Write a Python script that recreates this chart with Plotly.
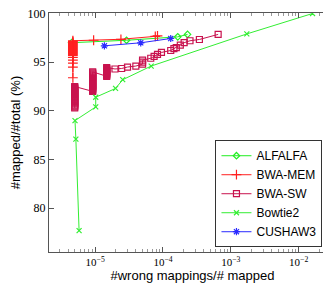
import plotly.graph_objects as go

# ---- data ----
alfalfa_x = [4.5e-6, 2.9e-5, 1.65e-4, 2.3e-4]
alfalfa_y = [97.0, 97.25, 97.6, 97.85]

bwamem_x = [8.3e-5, 7.7e-5, 2.4e-5, 9.5e-6, 4.7e-6, 4.7e-6, 4.7e-6, 4.7e-6, 4.7e-6, 4.7e-6,
            4.7e-6, 4.7e-6, 4.7e-6, 4.7e-6, 4.7e-6, 4.7e-6, 4.7e-6, 4.7e-6, 4.7e-6, 4.7e-6,
            4.7e-6, 4.7e-6, 4.7e-6, 4.7e-6, 4.7e-6]
bwamem_y = [97.7, 97.65, 97.35, 97.25, 97.2, 97.1, 97.0, 96.9, 96.8, 96.7,
            96.6, 96.5, 96.4, 96.3, 96.2, 96.1, 96.0, 95.9, 95.8, 95.7,
            95.5, 95.2, 94.9, 94.5, 93.4]

bwasw_x = [5.0e-6] * 23 + [9.2e-6] * 21 + [1.48e-5] * 10 + [
           1.96e-5, 2.46e-5, 3.0e-5, 3.98e-5, 5.0e-5, 5.0e-5, 5.0e-5, 6.6e-5, 7.4e-5,
           8.3e-5, 9.5e-5, 1.3e-4, 1.45e-4, 1.57e-4, 1.8e-4, 2.05e-4, 2.5e-4, 3.44e-4, 6.5e-4]
bwasw_y = [90.3, 90.4, 90.5, 90.6, 90.7, 90.8, 90.9, 91.0, 91.1, 91.2, 91.3, 91.4,
           91.5, 91.6, 91.7, 91.8, 91.9, 92.0, 92.1, 92.2, 92.3, 92.4, 92.5,
           92.0, 92.1, 92.2, 92.3, 92.4, 92.5, 92.6, 92.7, 92.8, 92.9, 93.0,
           93.1, 93.2, 93.3, 93.4, 93.5, 93.6, 93.7, 93.8, 93.9, 94.0,
           93.55, 93.65, 93.75, 93.85, 93.95, 94.05, 94.15, 94.25, 94.35, 94.45,
           94.3, 94.35, 94.5, 94.6, 94.8, 95.0, 95.2, 95.4, 95.6,
           95.8, 96.0, 96.2, 96.4, 96.5, 96.75, 97.0, 97.2, 97.33, 97.85]

bowtie_x = [1.6e-2, 1.72e-3, 6.7e-5, 2.55e-5, 2.0e-5, 1.02e-5, 1.02e-5, 5.05e-6, 5.2e-6, 5.8e-6]
bowtie_y = [100.0, 97.9, 94.6, 93.2, 92.3, 91.4, 90.4, 89.0, 87.1, 77.7]

cushaw_x = [1.37e-5, 4.7e-5, 1.3e-4]
cushaw_y = [96.68, 96.99, 97.43]

y_ticks = [80, 85, 90, 95, 100]
x_ticks = [1e-5, 1e-4, 1e-3, 1e-2]
x_ticktext = ["10<sup>−5</sup>", "10<sup>−4</sup>", "10<sup>−3</sup>", "10<sup>−2</sup>"]
x_minor = [m * 10.0 ** e for e in (-6, -5, -4, -3, -2) for m in range(2, 10)]

series = [
    ("ALFALFA", alfalfa_x, alfalfa_y, "#22ee22", "diamond-open", 5),
    ("BWA-MEM", bwamem_x, bwamem_y, "#ff2020", "cross-thin-open", 7),
    ("BWA-SW", bwasw_x, bwasw_y, "#c8124e", "square-open", 6),
    ("Bowtie2", bowtie_x, bowtie_y, "#33ee33", "x-thin-open", 5),
    ("CUSHAW3", cushaw_x, cushaw_y, "#2a2aff", "asterisk-open", 6),
]

fig = go.Figure()
for name, xs, ys, col, sym, sz in series:
    fig.add_trace(go.Scatter(
        x=xs, y=ys, name=name, mode="lines+markers",
        line=dict(color=col, width=1),
        marker=dict(symbol=sym, size=sz, color=col, line=dict(color=col, width=1.2)),
    ))

axis_col = "#555555"
fig.update_layout(
    width=331, height=283,
    margin=dict(l=41, r=3, t=5, b=39),
    plot_bgcolor="white", paper_bgcolor="white",
    showlegend=True,
    legend=dict(
        x=0.58, y=0.02, xanchor="left", yanchor="bottom",
        bordercolor="#333333", borderwidth=1, bgcolor="white",
        font=dict(family="Liberation Sans, Arial, sans-serif", size=12, color="black"),
        itemwidth=30, tracegroupgap=0,
    ),
    xaxis=dict(
        type="log", range=[-5.68, -1.45], automargin=False,
        showline=True, linecolor=axis_col, linewidth=1, mirror="allticks",
        ticks="inside", ticklen=5, tickcolor=axis_col,
        tickvals=x_ticks, ticktext=x_ticktext,
        tickfont=dict(family="Liberation Serif, Times New Roman, serif", size=11, color="black"),
        minor=dict(tickmode="array", tickvals=x_minor, ticks="inside", ticklen=3,
                   tickcolor="#999999", showgrid=False),
        showgrid=False, zeroline=False,
        title=dict(text="#wrong mappings/# mapped", standoff=1,
                   font=dict(family="Liberation Sans, Arial, sans-serif", size=13, color="black")),
    ),
    yaxis=dict(
        range=[75.5, 100.05], automargin=False,
        showline=True, linecolor=axis_col, linewidth=1, mirror="allticks",
        ticks="inside", ticklen=5, tickcolor=axis_col,
        tickvals=y_ticks, ticklabeloverflow="allow",
        tickfont=dict(family="Liberation Serif, Times New Roman, serif", size=12, color="black"),
        showgrid=False, zeroline=False,
        title=dict(text="#mapped/#total (%)", standoff=4,
                   font=dict(family="Liberation Sans, Arial, sans-serif", size=13, color="black")),
    ),
)

fig.write_html("out.html")
